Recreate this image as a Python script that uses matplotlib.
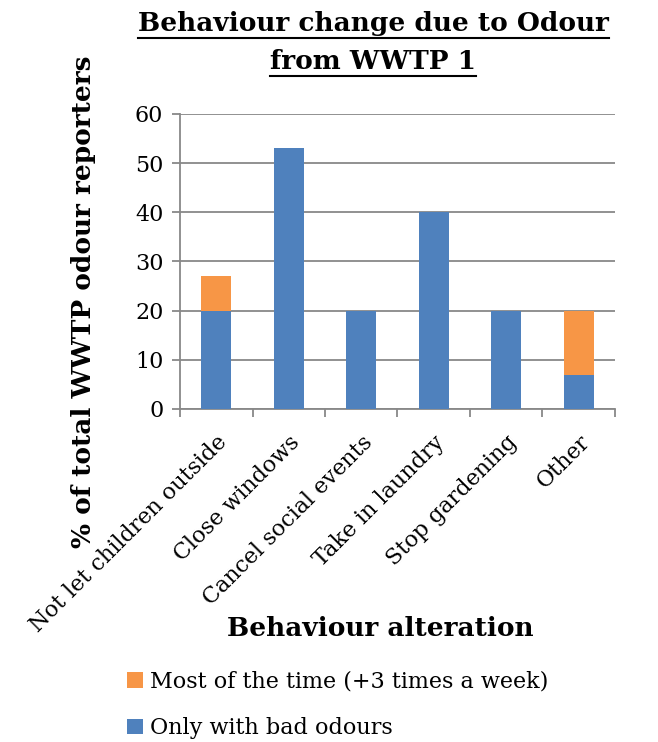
import matplotlib.pyplot as plt
import numpy as np

categories = ['Not let children outside', 'Close windows', 'Cancel social events',
              'Take in laundry', 'Stop gardening', 'Other']
only_bad = [20, 53, 20, 40, 20, 7]
most_time = [7, 0, 0, 0, 0, 13]
yticks = [0, 10, 20, 30, 40, 50, 60]

blue = '#4F81BD'
orange = '#F79646'
grey = '#888888'
plt.rcParams['font.family'] = ['DejaVu Serif']

fig = plt.figure(figsize=(6.58, 7.42), dpi=100)
ax = fig.add_axes([0.2736, 0.4488, 0.661, 0.3976])

x = np.arange(len(categories))
ax.bar(x, only_bad, width=0.41, color=blue, zorder=3, label='Only with bad odours')
ax.bar(x, most_time, width=0.41, bottom=only_bad, color=orange, zorder=3,
       label='Most of the time (+3 times a week)')

ax.set_xlim(-0.5, len(categories) - 0.5)
ax.set_ylim(0, 60)
ax.set_yticks(yticks)
ax.yaxis.grid(True, color=grey, linewidth=1.3, zorder=0)
for s in ['top', 'right']:
    ax.spines[s].set_visible(False)
for s in ['left', 'bottom']:
    ax.spines[s].set_color(grey)
    ax.spines[s].set_linewidth(1.3)

ax.tick_params(axis='y', labelsize=16, length=6, color=grey, width=1.3, pad=6)
ax.set_xticks(x)
ax.set_xticklabels(categories, rotation=45, ha='right', rotation_mode='anchor', fontsize=16)
ax.tick_params(axis='x', which='major', length=0, pad=16)
ax.set_xticks(np.arange(len(categories) + 1) - 0.5, minor=True)
ax.tick_params(axis='x', which='minor', length=6, color=grey, width=1.3)

fig.text(0.127, 0.594, '% of total WWTP odour reporters', rotation=90, fontsize=19,
         fontweight='bold', ha='center', va='center')
fig.text(0.578, 0.153, 'Behaviour alteration', fontsize=19, fontweight='bold',
         ha='center', va='center')

t1 = fig.text(0.567, 0.968, 'Behaviour change due to Odour', fontsize=19,
              fontweight='bold', ha='center', va='center')
t2 = fig.text(0.567, 0.917, 'from WWTP 1', fontsize=19,
              fontweight='bold', ha='center', va='center')

handles, labels = ax.get_legend_handles_labels()
fig.legend(handles[::-1], labels[::-1], loc='upper left', bbox_to_anchor=(0.18, 0.108),
           frameon=False, fontsize=16, handlelength=0.7, handleheight=0.7,
           handletextpad=0.3, labelspacing=1.1, borderaxespad=0)

# underline the title lines
fig.canvas.draw()
r = fig.canvas.get_renderer()
for t in [t1, t2]:
    bb = t.get_window_extent(r).transformed(fig.transFigure.inverted())
    fig.add_artist(plt.Line2D([bb.x0, bb.x1], [bb.y0 - 0.002, bb.y0 - 0.002],
                              transform=fig.transFigure, color='black', linewidth=1.5))

fig.savefig('out.png', dpi=100)
